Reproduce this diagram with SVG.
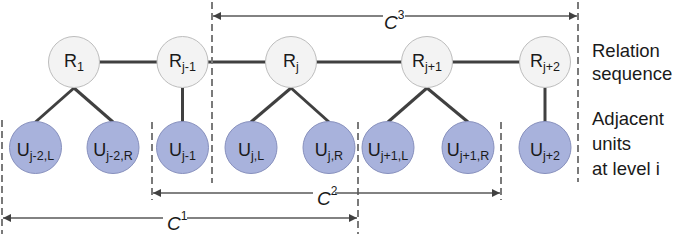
<svg xmlns="http://www.w3.org/2000/svg" width="675" height="234" viewBox="0 0 675 234">
<style>
.rn{fill:#f3f3f3;stroke:#bdbdbd;stroke-width:1}
.un{fill:#a8b2dc;stroke:#8790bd;stroke-width:1}
.lbl{font-family:"Liberation Sans",Arial,sans-serif;font-size:18px;fill:#1a1a1a;text-anchor:middle}
.sub{font-size:12.5px}
.edge{stroke:#404040;stroke-width:3;fill:none}
.dash{stroke:#7a7a7a;stroke-width:2;stroke-dasharray:7,4;fill:none}
.span{stroke:#595959;stroke-width:1.5;fill:none}
.cl{font-family:"Liberation Sans",Arial,sans-serif;font-size:19px;font-style:italic;fill:#1a1a1a}
.cs{font-size:12px;font-style:normal}
.side{font-family:"Liberation Sans",Arial,sans-serif;font-size:18.5px;fill:#1a1a1a}
</style>
<defs>
<marker id="ah" viewBox="0 0 10 10" refX="10" refY="5" markerWidth="8" markerHeight="8" markerUnits="userSpaceOnUse" orient="auto-start-reverse">
<path d="M0,0 L10,5 L0,10 z" fill="#404040"/>
</marker>
</defs>
<g id="connectors">
<line class="edge" x1="74" y1="62" x2="545" y2="62"/>
<line class="edge" x1="74" y1="88" x2="35.5" y2="122"/>
<line class="edge" x1="74" y1="88" x2="113" y2="122"/>
<line class="edge" x1="182.5" y1="88" x2="182.5" y2="122"/>
<line class="edge" x1="291" y1="88" x2="251" y2="122"/>
<line class="edge" x1="291" y1="88" x2="329" y2="122"/>
<line class="edge" x1="427" y1="88" x2="388" y2="122"/>
<line class="edge" x1="427" y1="88" x2="468" y2="122"/>
<line class="edge" x1="545" y1="88" x2="545" y2="122"/>
</g>
<g id="guides">
<line class="dash" x1="212" y1="2" x2="212" y2="183"/>
<line class="dash" x1="578" y1="2" x2="578" y2="182"/>
<line class="dash" x1="2" y1="120" x2="2" y2="234"/>
<line class="dash" x1="152" y1="122" x2="152" y2="200"/>
<line class="dash" x1="358" y1="122" x2="358" y2="234"/>
<line class="dash" x1="501" y1="122" x2="501" y2="200"/>
</g>
<g id="span-c3">
<line class="span" x1="383" y1="16" x2="213" y2="16" marker-end="url(#ah)"/>
<line class="span" x1="405" y1="16" x2="577" y2="16" marker-end="url(#ah)"/>
<text x="384" y="29" class="cl">C<tspan class="cs" dy="-10">3</tspan></text>
</g>
<g id="span-c2">
<line class="span" x1="313" y1="193" x2="153" y2="193" marker-end="url(#ah)"/>
<line class="span" x1="335" y1="193" x2="500" y2="193" marker-end="url(#ah)"/>
<text x="317" y="205" class="cl">C<tspan class="cs" dy="-10">2</tspan></text>
</g>
<g id="span-c1">
<line class="span" x1="163" y1="218" x2="3" y2="218" marker-end="url(#ah)"/>
<line class="span" x1="187" y1="218" x2="357" y2="218" marker-end="url(#ah)"/>
<text x="167" y="230" class="cl">C<tspan class="cs" dy="-10">1</tspan></text>
</g>
<g id="R1"><circle class="rn" cx="74" cy="62" r="25.5"/><text class="lbl" x="74" y="67">R<tspan class="sub" dy="4">1</tspan></text></g>
<g id="Rj-1"><circle class="rn" cx="182.5" cy="62" r="25.5"/><text class="lbl" x="182.5" y="67">R<tspan class="sub" dy="4">j-1</tspan></text></g>
<g id="Rj"><circle class="rn" cx="291" cy="62" r="25.5"/><text class="lbl" x="291" y="67">R<tspan class="sub" dy="4">j</tspan></text></g>
<g id="Rj+1"><circle class="rn" cx="427" cy="62" r="25.5"/><text class="lbl" x="427" y="67">R<tspan class="sub" dy="4">j+1</tspan></text></g>
<g id="Rj+2"><circle class="rn" cx="545" cy="62" r="25.5"/><text class="lbl" x="545" y="67">R<tspan class="sub" dy="4">j+2</tspan></text></g>
<g id="Uj-2L"><circle class="un" cx="35.5" cy="147.5" r="26"/><text class="lbl" x="35.5" y="156">U<tspan class="sub" dy="4">j-2,L</tspan></text></g>
<g id="Uj-2R"><circle class="un" cx="113" cy="147.5" r="26"/><text class="lbl" x="113" y="156">U<tspan class="sub" dy="4">j-2,R</tspan></text></g>
<g id="Uj-1"><circle class="un" cx="182.5" cy="147.5" r="26"/><text class="lbl" x="182.5" y="156">U<tspan class="sub" dy="4">j-1</tspan></text></g>
<g id="UjL"><circle class="un" cx="251" cy="147.5" r="26"/><text class="lbl" x="251" y="156">U<tspan class="sub" dy="4">j,L</tspan></text></g>
<g id="UjR"><circle class="un" cx="329" cy="147.5" r="26"/><text class="lbl" x="329" y="156">U<tspan class="sub" dy="4">j,R</tspan></text></g>
<g id="Uj+1L"><circle class="un" cx="388" cy="147.5" r="26"/><text class="lbl" x="388" y="156">U<tspan class="sub" dy="4">j+1,L</tspan></text></g>
<g id="Uj+1R"><circle class="un" cx="468" cy="147.5" r="26"/><text class="lbl" x="468" y="156">U<tspan class="sub" dy="4">j+1,R</tspan></text></g>
<g id="Uj+2"><circle class="un" cx="545" cy="147.5" r="26"/><text class="lbl" x="545" y="156">U<tspan class="sub" dy="4">j+2</tspan></text></g>
<g id="legend">
<text class="side" x="592" y="57">Relation</text>
<text class="side" x="592" y="80">sequence</text>
<text class="side" x="592" y="125">Adjacent</text>
<text class="side" x="592" y="150">units</text>
<text class="side" x="592" y="175">at level i</text>
</g>
</svg>
